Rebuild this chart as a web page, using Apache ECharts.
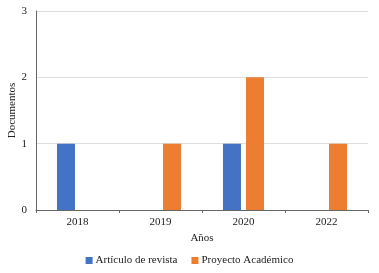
<!DOCTYPE html>
<html>
<head>
<meta charset="utf-8">
<script src="https://cdn.jsdelivr.net/npm/echarts@6/dist/echarts.min.js"></script>
<style>
  html, body { margin: 0; padding: 0; background: #fff; }
  #main { width: 379px; height: 273px; }
</style>
</head>
<body>
<div id="main"></div>
<script>
// datos
var anios = ['2018', '2019', '2020', '2022'];
var articulo = [1, 0, 1, 0];
var proyecto = [0, 1, 2, 1];

var myChart = echarts.init(document.getElementById('main'));
var fuente = '"Liberation Serif", "Times New Roman", serif';

var option = {
    animation: false,
    textStyle: { fontFamily: fuente },
    color: ['#4472C4', '#ED7D31'],
    grid: { left: 36, right: 11, top: 11, bottom: 63, outerBoundsMode: 'none' },
    legend: {
        bottom: 2,
        left: 'center',
        icon: 'rect',
        itemWidth: 7,
        itemHeight: 7,
        itemGap: 14,
        textStyle: { fontFamily: fuente, fontSize: 11, color: '#222', padding: [0, 0, 0, -2] },
        data: ['Artículo de revista', 'Proyecto Académico']
    },
    xAxis: {
        type: 'category',
        data: anios,
        name: 'Años',
        nameLocation: 'middle',
        nameGap: 23,
        nameMoveOverlap: false,
        nameTextStyle: { fontFamily: fuente, fontSize: 11, color: '#222' },
        axisLine: { lineStyle: { color: '#666' } },
        axisTick: { show: true, length: 3, lineStyle: { color: '#666' } },
        axisLabel: { fontFamily: fuente, fontSize: 11, color: '#222', margin: 7 }
    },
    yAxis: {
        type: 'value',
        min: 0,
        max: 3,
        interval: 1,
        name: 'Documentos',
        nameLocation: 'middle',
        nameGap: 18,
        nameMoveOverlap: false,
        nameTextStyle: { fontFamily: fuente, fontSize: 11, color: '#222' },
        axisLine: { show: true, lineStyle: { color: '#666' } },
        axisTick: { show: false },
        axisLabel: { fontFamily: fuente, fontSize: 11, color: '#222', margin: 9 },
        splitLine: { lineStyle: { color: '#ddd' } }
    },
    series: [
        {
            name: 'Artículo de revista',
            type: 'bar',
            barWidth: 18,
            barGap: '28%',
            data: articulo
        },
        {
            name: 'Proyecto Académico',
            type: 'bar',
            barWidth: 18,
            barGap: '28%',
            data: proyecto
        }
    ]
};

myChart.setOption(option);
</script>
</body>
</html>
